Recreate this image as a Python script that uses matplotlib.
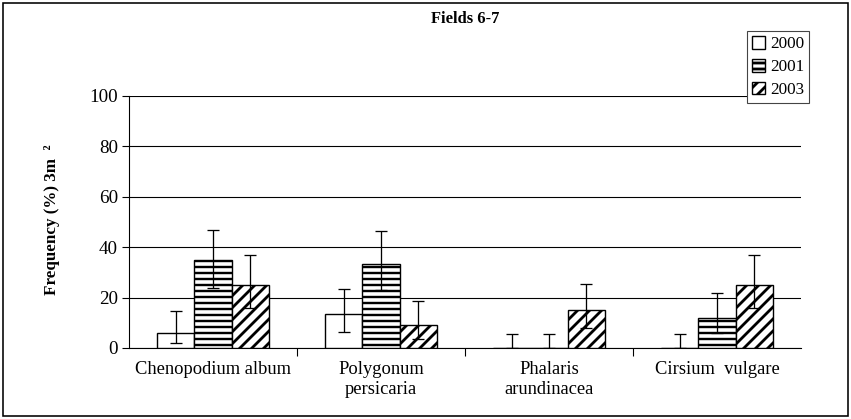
import matplotlib
matplotlib.use("Agg")
import matplotlib.pyplot as plt
from matplotlib.patches import Rectangle
import numpy as np

# dpi 72 so that 1 pt == 1 px
plt.rcParams['font.family'] = ['Liberation Serif', 'DejaVu Serif']

categories = ["Chenopodium album", "Polygonum\npersicaria", "Phalaris\narundinacea", "Cirsium  vulgare"]
years = ["2000", "2001", "2003"]

vals_2000 = [6, 13.5, 0, 0]
low_2000 = [2, 6.5, 0, 0]
high_2000 = [14.5, 23.5, 5.5, 5.5]

vals_2001 = [35, 33.5, 0, 12]
low_2001 = [24, 23, 0, 6]
high_2001 = [47, 46.5, 5.5, 22]

vals_2003 = [25, 9, 15, 25]
low_2003 = [16, 3.5, 8, 16]
high_2003 = [37, 18.5, 25.5, 37]

series = [(vals_2000, low_2000, high_2000, "", 1.0),
          (vals_2001, low_2001, high_2001, "--", 2.4),
          (vals_2003, low_2003, high_2003, "//", 2.8)]

fig = plt.figure(figsize=(851 / 72, 419 / 72), dpi=72)
ax = fig.add_axes([129 / 851, 1 - 348 / 419, 672 / 851, 252 / 419])

x = np.arange(len(categories))
w = 0.223
for i, (vals, lo, hi, hatch, hlw) in enumerate(series):
    vals = np.array(vals, dtype=float)
    pos = x + (i - 1) * w
    plt.rcParams['hatch.linewidth'] = hlw
    ax.bar(pos, vals, width=w, color="white", edgecolor="black", linewidth=1.4,
           hatch=hatch, label=years[i], zorder=3)
    yerr = [vals - np.array(lo), np.array(hi) - vals]
    ax.errorbar(pos, vals, yerr=yerr, fmt="none", ecolor="black", elinewidth=1.3,
                capsize=6, capthick=1.3, zorder=4)

ax.set_xlim(-0.5, len(categories) - 0.5)
ax.set_ylim(0, 100)
ax.set_yticks(range(0, 101, 20))
ax.yaxis.grid(True, color="black", linewidth=1.1, zorder=0)
ax.set_axisbelow(True)

ax.set_xticks(x)
ax.set_xticklabels(categories, fontsize=18.5)
ax.tick_params(axis="x", length=0, pad=13)
ax.set_xticks(x[:-1] + 0.5, minor=True)
ax.tick_params(axis="x", which="minor", length=8, direction="out", width=1.1)
ax.tick_params(axis="y", length=7, direction="out", width=1.1, labelsize=19, pad=4)

for s in ["top", "right"]:
    ax.spines[s].set_visible(False)
ax.spines["left"].set_linewidth(1.1)
ax.spines["bottom"].set_linewidth(1.1)

fig.text(465 / 851, 1 - 19 / 419, "Fields 6-7", ha="center", va="center",
         fontsize=16.5, fontweight="bold")
fig.text(52 / 851, 1 - 220 / 419, "Frequency (%) 3m  \u00b2", rotation=90,
         ha="center", va="center", fontsize=17, fontweight="bold")

leg = ax.legend(loc="upper right", bbox_to_anchor=(809 / 851, 1 - 31 / 419),
                bbox_transform=fig.transFigure, fancybox=False, framealpha=1,
                edgecolor="#444444", fontsize=17, handlelength=0.75, handleheight=0.75,
                handletextpad=0.3, labelspacing=0.4, borderpad=0.3, borderaxespad=0)
leg.get_frame().set_linewidth(1.1)
leg.set_zorder(10)

fig.patches.append(Rectangle((3 / 851, 3 / 419), 845 / 851, 413 / 419,
                             transform=fig.transFigure, fill=False,
                             edgecolor="black", linewidth=1.6))

fig.savefig("out.png", dpi=72)
